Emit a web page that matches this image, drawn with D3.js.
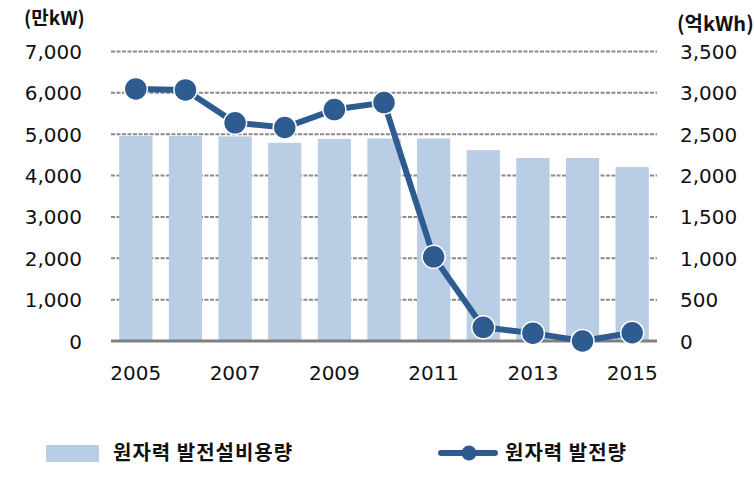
<!DOCTYPE html>
<html><head><meta charset="utf-8">
<script src="https://cdn.jsdelivr.net/npm/d3@7"></script>
<style>
body{margin:0;background:#fff;}
svg{display:block;}
.tick text{font-family:"DejaVu Sans",Verdana,sans-serif;}
</style></head>
<body>
<svg id="chart" width="754" height="477"></svg>
<script>
const years = ["2005","2006","2007","2008","2009","2010","2011","2012","2013","2014","2015"];
const capacity = [4958,4958,4947,4793,4885,4896,4896,4615,4426,4426,4205];
const generation = [3048,3035,2638,2581,2798,2882,1018,165,95,0,100];
const leftTicks = [0,1000,2000,3000,4000,5000,6000,7000];
const rightTicks = [0,500,1000,1500,2000,2500,3000,3500];
const xLabels = ["2005","2007","2009","2011","2013","2015"];
const leftUnit = "(만kW)";
const rightUnit = "(억kWh)";
const legendBar = "원자력 발전설비용량";
const legendLine = "원자력 발전량";

const svg = d3.select("#chart");
const L = 111, R = 657, T = 51.5, B = 341;
const barColor = "#B9CDE5", lineColor = "#2E5B90";
const kfont = "'Noto Sans CJK KR', sans-serif";

const x = d3.scaleBand().domain(years).range([L, R]).paddingInner(0.33).paddingOuter(0.165);
const yL = d3.scaleLinear().domain([0,7000]).range([B, T]);
const yR = d3.scaleLinear().domain([0,3500]).range([B, T]);

// gridlines
svg.append("g").selectAll("line").data(leftTicks.filter(d=>d>0)).join("line")
  .attr("x1", L).attr("x2", R).attr("y1", d=>yL(d)).attr("y2", d=>yL(d))
  .attr("stroke", "#8a8a8a").attr("stroke-width", 2).attr("stroke-dasharray", "4,1.5");

// bars
svg.append("g").selectAll("rect").data(years).join("rect")
  .attr("x", d=>x(d)).attr("width", x.bandwidth())
  .attr("y", (d,i)=>yL(capacity[i])).attr("height", (d,i)=>B - yL(capacity[i]))
  .attr("fill", barColor);

// baseline
svg.append("line").attr("x1", L).attr("x2", R).attr("y1", B).attr("y2", B)
  .attr("stroke", "#808080").attr("stroke-width", 3);

// left axis
const gl = svg.append("g").attr("transform", `translate(${L-29},0)`)
  .call(d3.axisLeft(yL).tickValues(leftTicks).tickSize(0).tickPadding(0).tickFormat(d3.format(",")));
gl.select(".domain").remove();
gl.selectAll("text").attr("font-size", 20).attr("fill", "#111").attr("dy", "0.35em");

// right axis
const gr = svg.append("g").attr("transform", `translate(${R+23},0)`)
  .call(d3.axisRight(yR).tickValues(rightTicks).tickSize(0).tickPadding(0).tickFormat(d3.format(",")));
gr.select(".domain").remove();
gr.selectAll("text").attr("font-size", 20).attr("fill", "#111").attr("dy", "0.35em");

// x axis
const gx = svg.append("g").attr("transform", `translate(0,${B+32})`)
  .call(d3.axisBottom(x).tickValues(xLabels).tickSize(0).tickPadding(0));
gx.select(".domain").remove();
gx.selectAll("text").attr("font-size", 20).attr("fill", "#111").attr("dy", "0.35em");

// units
svg.append("text").attr("x", 24).attr("y", 25).text(leftUnit)
  .attr("font-family", kfont).attr("font-weight", 700).attr("font-size", 19).attr("fill", "#111");
svg.append("text").attr("x", 677).attr("y", 31).text(rightUnit)
  .attr("font-family", kfont).attr("font-weight", 700).attr("font-size", 20).attr("fill", "#111");

// line
const cx = d => x(d) + x.bandwidth()/2;
const line = d3.line().x((d,i)=>cx(years[i])).y(d=>yR(d));
svg.append("path").datum(generation).attr("d", line)
  .attr("fill", "none").attr("stroke", lineColor).attr("stroke-width", 6).attr("stroke-linejoin", "round");
svg.append("g").selectAll("circle").data(generation).join("circle")
  .attr("cx", (d,i)=>cx(years[i])).attr("cy", d=>yR(d)).attr("r", 11.5)
  .attr("fill", lineColor).attr("stroke", "#fff").attr("stroke-width", 1.5);

// legend
const lg = svg.append("g");
lg.append("rect").attr("x", 46).attr("y", 445).attr("width", 53).attr("height", 17).attr("fill", barColor);
lg.append("text").attr("x", 113).attr("y", 453).attr("dy", "0.35em").text(legendBar)
  .attr("font-family", kfont).attr("font-weight", 700).attr("font-size", 20).attr("letter-spacing", 1).attr("fill", "#111");
lg.append("line").attr("x1", 441).attr("x2", 495).attr("y1", 453).attr("y2", 453)
  .attr("stroke", lineColor).attr("stroke-width", 6).attr("stroke-linecap", "round");
lg.append("circle").attr("cx", 469).attr("cy", 453).attr("r", 7.5).attr("fill", lineColor);
lg.append("text").attr("x", 505).attr("y", 453).attr("dy", "0.35em").text(legendLine)
  .attr("font-family", kfont).attr("font-weight", 700).attr("font-size", 20).attr("letter-spacing", 1).attr("fill", "#111");
</script>
</body></html>
